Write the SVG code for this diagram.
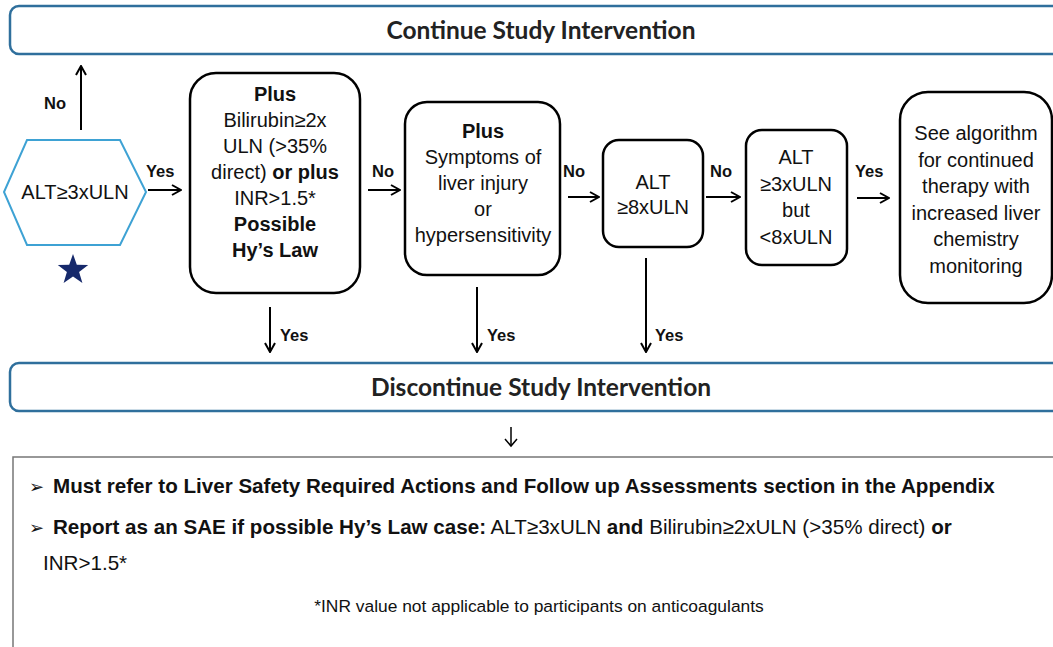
<svg xmlns="http://www.w3.org/2000/svg" width="1053" height="647" viewBox="0 0 1053 647">
<defs>
<marker id="ah" viewBox="0 0 12 12" refX="11" refY="6" markerWidth="12" markerHeight="12" markerUnits="userSpaceOnUse" orient="auto">
<path d="M2,1 L11,6 L2,11" fill="none" stroke="#000" stroke-width="2"/>
</marker>
<style>
.banner{fill:#fff;stroke:#2f6f9c;stroke-width:2.5}
.bt{font-family:Lato,"Liberation Sans",sans-serif;font-weight:700;font-size:24.5px;fill:#222;text-anchor:middle}
.box{fill:#fff;stroke:#000;stroke-width:2.5}
.t{font-family:"Liberation Sans",Arial,sans-serif;font-size:20px;fill:#111;text-anchor:middle}
.b{font-weight:700}
.lbl{font-family:"Liberation Sans",Arial,sans-serif;font-size:16.5px;font-weight:700;fill:#111}
.edge{stroke:#000;stroke-width:2;fill:none;marker-end:url(#ah)}
.nt{font-family:"Liberation Sans",Arial,sans-serif;font-size:20.6px;fill:#111}
.fn{font-family:"Liberation Sans",Arial,sans-serif;font-size:17.4px;fill:#111;text-anchor:middle}
</style>
</defs>
<g id="continue">
<rect class="banner" x="10" y="6" width="1060" height="48" rx="9"/>
<text class="bt" x="541" y="39">Continue Study Intervention</text>
</g>
<g id="alt3">
<polygon points="27,140 120,140 146,192 120,245 27,245 4,192" fill="#fff" stroke="#3ea2d4" stroke-width="2"/>
<text class="t" x="75" y="199">ALT≥3xULN</text>
<polygon fill="#16296b" transform="translate(73,270)" points="0,-16 3.8,-5.2 15.2,-4.9 6.1,2 9.4,12.9 0,6.4 -9.4,12.9 -6.1,2 -15.2,-4.9 -3.8,-5.2"/>
</g>
<g id="hyslaw">
<rect class="box" x="190" y="73" width="170" height="220" rx="26"/>
<text class="t" x="275" y="101"><tspan class="b">Plus</tspan><tspan x="275" dy="26">Bilirubin≥2x</tspan><tspan x="275" dy="26">ULN (&gt;35%</tspan><tspan x="275" dy="26">direct) <tspan class="b">or plus</tspan></tspan><tspan x="275" dy="26">INR&gt;1.5*</tspan><tspan x="275" dy="26" class="b">Possible</tspan><tspan x="275" dy="26" class="b">Hy’s Law</tspan></text>
</g>
<g id="symptoms">
<rect class="box" x="405" y="102" width="155" height="173" rx="22"/>
<text class="t" x="483" y="138"><tspan class="b">Plus</tspan><tspan x="483" dy="26">Symptoms of</tspan><tspan x="483" dy="26">liver injury</tspan><tspan x="483" dy="26">or</tspan><tspan x="483" dy="26">hypersensitivity</tspan></text>
</g>
<g id="alt8">
<rect class="box" x="603" y="140" width="100" height="107" rx="16"/>
<text class="t" x="653" y="189"><tspan>ALT</tspan><tspan x="653" dy="25">≥8xULN</tspan></text>
</g>
<g id="alt3to8">
<rect class="box" x="746" y="130" width="101" height="135" rx="16"/>
<text class="t" x="796" y="164"><tspan>ALT</tspan><tspan x="796" dy="26.5">≥3xULN</tspan><tspan x="796" dy="26.5">but</tspan><tspan x="796" dy="26.5">&lt;8xULN</tspan></text>
</g>
<g id="seealgo">
<rect class="box" x="900" y="92" width="152" height="211" rx="28"/>
<text class="t" x="976" y="140"><tspan>See algorithm</tspan><tspan x="976" dy="26.5">for continued</tspan><tspan x="976" dy="26.5">therapy with</tspan><tspan x="976" dy="26.5">increased liver</tspan><tspan x="976" dy="26.5">chemistry</tspan><tspan x="976" dy="26.5">monitoring</tspan></text>
</g>
<g id="discontinue">
<rect class="banner" x="10" y="363" width="1060" height="48" rx="9"/>
<text class="bt" x="541" y="396">Discontinue Study Intervention</text>
</g>
<g id="actions">
<rect x="13" y="457" width="1060" height="210" fill="#fff" stroke="#777" stroke-width="1.5"/>
<text class="nt" x="29" y="493"><tspan font-size="18">➢</tspan><tspan class="b" x="53">Must refer to Liver Safety Required Actions and Follow up Assessments section in the Appendix</tspan></text>
<text class="nt" x="29" y="534"><tspan font-size="18">➢</tspan><tspan class="b" x="53">Report as an SAE if possible Hy’s Law case:</tspan> ALT≥3xULN <tspan class="b">and</tspan> Bilirubin≥2xULN (&gt;35% direct) <tspan class="b">or</tspan></text>
<text class="nt" x="43" y="570">INR&gt;1.5*</text>
<text class="fn" x="539" y="612">*INR value not applicable to participants on anticoagulants</text>
</g>
<g id="connectors">
<path class="edge" d="M81,130 V66"/>
<text class="lbl" x="44" y="109">No</text>
<path class="edge" d="M148,190 H181"/>
<text class="lbl" x="146" y="177">Yes</text>
<path class="edge" d="M368,190 H400"/>
<text class="lbl" x="372" y="177">No</text>
<path class="edge" d="M568,197 H599"/>
<text class="lbl" x="563" y="177">No</text>
<path class="edge" d="M706,197 H740"/>
<text class="lbl" x="710" y="177">No</text>
<path class="edge" d="M857,198 H889"/>
<text class="lbl" x="855" y="177">Yes</text>
<path class="edge" d="M270,307 V352"/>
<text class="lbl" x="280" y="341">Yes</text>
<path class="edge" d="M477,287 V352"/>
<text class="lbl" x="487" y="341">Yes</text>
<path class="edge" d="M646,258 V352"/>
<text class="lbl" x="655" y="341">Yes</text>
<path d="M511,427 V445" stroke="#000" stroke-width="1.5" fill="none"/>
<path d="M505,439 L511,446 L517,439" stroke="#000" stroke-width="1.5" fill="none"/>
</g>
</svg>
